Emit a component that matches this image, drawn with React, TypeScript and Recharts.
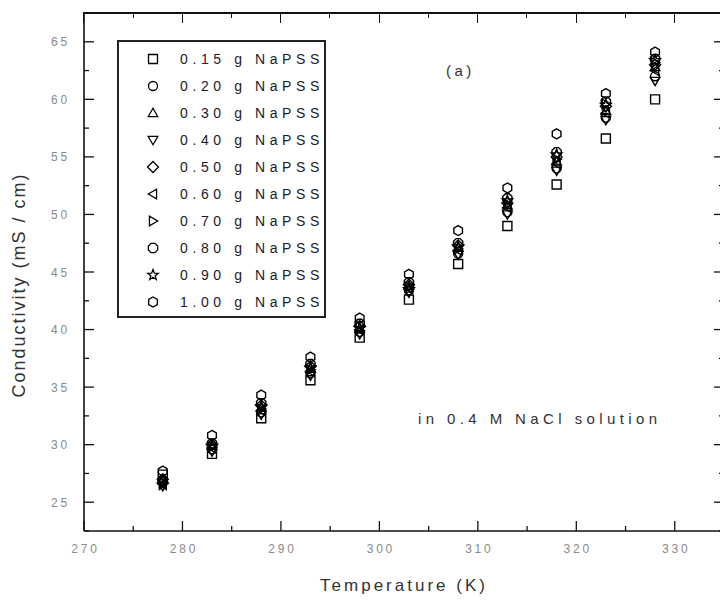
import { ReferenceLine, Scatter, ScatterChart, XAxis, YAxis } from "recharts";

const temps = [278, 283, 288, 293, 298, 303, 308, 313, 318, 323, 328];

const s015 = [27.4, 29.2, 32.3, 35.6, 39.3, 42.6, 45.7, 49.0, 52.6, 56.6, 60.0];
const s020 = [26.8, 29.6, 32.8, 36.2, 39.8, 43.4, 46.6, 50.2, 54.0, 58.4, 62.0];
const s030 = [26.9, 29.9, 33.2, 36.6, 40.1, 43.8, 47.1, 50.8, 54.6, 59.0, 62.8];
const s040 = [26.4, 29.4, 32.6, 36.0, 39.6, 43.2, 46.5, 50.0, 53.8, 58.2, 61.6];
const s050 = [27.0, 30.0, 33.4, 36.8, 40.3, 43.9, 47.3, 51.0, 55.0, 59.4, 63.0];
const s060 = [26.6, 29.7, 33.0, 36.4, 40.0, 43.6, 46.9, 50.6, 54.4, 58.8, 62.5];
const s070 = [26.7, 29.8, 33.1, 36.5, 40.2, 43.7, 47.0, 50.9, 54.8, 59.6, 63.2];
const s080 = [26.9, 30.1, 33.6, 37.0, 40.5, 44.1, 47.5, 51.4, 55.4, 59.8, 63.5];
const s090 = [26.5, 29.9, 33.3, 36.7, 40.1, 43.5, 47.2, 51.2, 55.2, 59.5, 63.4];
const s100 = [27.7, 30.8, 34.3, 37.6, 41.0, 44.8, 48.6, 52.3, 57.0, 60.5, 64.1];

const seriesNames = [
  "0.15 g NaPSS", "0.20 g NaPSS", "0.30 g NaPSS", "0.40 g NaPSS", "0.50 g NaPSS",
  "0.60 g NaPSS", "0.70 g NaPSS", "0.80 g NaPSS", "0.90 g NaPSS", "1.00 g NaPSS",
];
const seriesValues = [s015, s020, s030, s040, s050, s060, s070, s080, s090, s100];
const shapes = ["square", "circle", "triUp", "triDown", "diamond", "triLeft", "triRight", "octagon", "star", "hexagon"];

const xMajor = [270, 280, 290, 300, 310, 320, 330];
const xMinor = [275, 285, 295, 305, 315, 325, 335];
const yMajor = [25, 30, 35, 40, 45, 50, 55, 60, 65];
const yMinor = [22.5, 27.5, 32.5, 37.5, 42.5, 47.5, 52.5, 57.5, 62.5, 67.5];

const xTicks = [...xMajor, ...xMinor].sort((a, b) => a - b);
const yTicks = [...yMajor, ...yMinor].sort((a, b) => a - b);

const X_DOMAIN = [270, 335];
const Y_DOMAIN = [22.5, 67.5];

const CHART_W = 740;
const CHART_H = 600;
const TOP = 13;
const LEFT = 84;
const RIGHT_M = 15;

const FONT = '"Liberation Sans", Arial, sans-serif';
const INK = "#111";

function poly(pts: number[][]) {
  return "M" + pts.map((p) => p[0].toFixed(2) + "," + p[1].toFixed(2)).join("L") + "Z";
}

function ring(cx: number, cy: number, n: number, r: number, start: number) {
  const pts: number[][] = [];
  for (let i = 0; i < n; i++) {
    const a = start + (i * 2 * Math.PI) / n;
    pts.push([cx + r * Math.cos(a), cy + r * Math.sin(a)]);
  }
  return pts;
}

function pathFor(kind: string, cx: number, cy: number) {
  const r = 4.5;
  switch (kind) {
    case "square":
      return poly([[cx - r, cy - r], [cx + r, cy - r], [cx + r, cy + r], [cx - r, cy + r]]);
    case "circle":
      return `M${cx - r},${cy}a${r},${r} 0 1,0 ${2 * r},0a${r},${r} 0 1,0 ${-2 * r},0`;
    case "triUp":
      return poly(ring(cx, cy + 0.8, 3, 5.5, -Math.PI / 2));
    case "triDown":
      return poly(ring(cx, cy - 0.8, 3, 5.5, Math.PI / 2));
    case "triLeft":
      return poly(ring(cx + 0.8, cy, 3, 5.5, Math.PI));
    case "triRight":
      return poly(ring(cx - 0.8, cy, 3, 5.5, 0));
    case "diamond":
      return poly(ring(cx, cy, 4, 5.5, 0));
    case "octagon":
      return poly(ring(cx, cy, 8, 5, Math.PI / 8));
    case "hexagon":
      return poly(ring(cx, cy, 6, 5, -Math.PI / 2));
    case "star": {
      const pts: number[][] = [];
      for (let i = 0; i < 10; i++) {
        const a = -Math.PI / 2 + (i * Math.PI) / 5;
        const rr = i % 2 === 0 ? 5.5 : 2.3;
        pts.push([cx + rr * Math.cos(a), cy + rr * Math.sin(a)]);
      }
      return poly(pts);
    }
    default:
      return "";
  }
}

const makeShape = (kind: string) => (props: any) => {
  const { cx, cy } = props;
  if (cx == null || cy == null) return <g />;
  return <path d={pathFor(kind, cx, cy)} fill="none" stroke="#000" strokeWidth={1.4} />;
};

const tickText = { fontFamily: FONT, fontSize: 12, fill: "#8a8a8a", letterSpacing: 2.8 };

const isMajor = (v: number, majors: number[]) => majors.includes(v);

const BottomTick = (props: any) => {
  const { x, y, payload } = props;
  const major = isMajor(payload.value, xMajor);
  return (
    <g>
      <line x1={x} x2={x} y1={y} y2={y - (major ? 10 : 5)} stroke={INK} strokeWidth={1.3} />
      {major && (
        <text x={x + 1.5} y={y + 22} textAnchor="middle" style={tickText}>
          {payload.value}
        </text>
      )}
    </g>
  );
};

const LeftTick = (props: any) => {
  const { x, y, payload } = props;
  const major = isMajor(payload.value, yMajor);
  return (
    <g>
      <line x1={x} x2={x + (major ? 10 : 5)} y1={y} y2={y} stroke={INK} strokeWidth={1.3} />
      {major && (
        <text x={x - 14} y={y + 4.5} textAnchor="end" style={tickText}>
          {payload.value}
        </text>
      )}
    </g>
  );
};

const RightTick = (props: any) => {
  const { x, y, payload } = props;
  const major = isMajor(payload.value, yMajor);
  return <line x1={x} x2={x - (major ? 10 : 5)} y1={y} y2={y} stroke={INK} strokeWidth={1.3} />;
};

const titleStyle = { fontFamily: FONT, fontSize: 18, fill: "#333" };

const YTitle = (props: any) => {
  const vb = props.viewBox || { x: 0, y: 0, width: 0, height: 0 };
  const cx = vb.x + 19;
  const cy = vb.y + vb.height / 2 + 13;
  return (
    <text x={cx} y={cy} transform={`rotate(-90 ${cx} ${cy})`} textAnchor="middle" dominantBaseline="central" style={{ ...titleStyle, letterSpacing: 2 }}>
      Conductivity (mS / cm)
    </text>
  );
};

const XTitle = (props: any) => {
  const vb = props.viewBox || { x: 0, y: 0, width: 0, height: 0 };
  return (
    <text x={vb.x + vb.width / 2} y={vb.y + 60} textAnchor="middle" style={{ ...titleStyle, fontSize: 17, letterSpacing: 3 }}>
      Temperature (K)
    </text>
  );
};

// top edge of the frame as plain HTML, laid over the chart
function TopFrame() {
  const plotW = CHART_W - RIGHT_M - 1 - LEFT;
  const toX = (v: number) => LEFT + ((v - X_DOMAIN[0]) / (X_DOMAIN[1] - X_DOMAIN[0])) * plotW;
  return (
    <>
      <div
        style={{
          position: "absolute",
          left: LEFT - 1,
          top: TOP - 1,
          width: plotW + 2,
          height: 0,
          borderTop: `2px solid ${INK}`,
          zIndex: 20,
        }}
      />
      {xTicks.map((t) => (
        <div
          key={t}
          style={{
            position: "absolute",
            left: toX(t) - 0.7,
            top: TOP,
            width: 0,
            height: isMajor(t, xMajor) ? 10 : 5,
            borderLeft: `1.4px solid ${INK}`,
            zIndex: 20,
          }}
        />
      ))}
    </>
  );
}

function LegendBox() {
  return (
    <div
      style={{
        position: "absolute",
        left: 117,
        top: 40,
        width: 209,
        height: 278,
        boxSizing: "border-box",
        border: "2px solid #222",
        background: "#fff",
        paddingTop: 3,
      }}
    >
      {seriesNames.map((name, i) => (
        <div key={name} style={{ height: 27.1, display: "flex", alignItems: "center" }}>
          <svg width={14} height={14} style={{ marginLeft: 27, marginRight: 20 }}>
            <path d={pathFor(shapes[i], 7, 7)} fill="none" stroke="#000" strokeWidth={1.3} />
          </svg>
          <span style={{ fontFamily: FONT, fontSize: 14, color: "#1a1a2a", letterSpacing: 4.6 }}>{name}</span>
        </div>
      ))}
    </div>
  );
}

const note = { position: "absolute" as const, fontFamily: FONT, fontSize: 15, color: "#333", whiteSpace: "nowrap" as const };

export default function App() {
  return (
    <div style={{ position: "absolute", left: 0, top: 0, width: 720, height: 600, overflow: "hidden", background: "#fff" }}>
      <ScatterChart width={CHART_W} height={CHART_H} margin={{ top: TOP, right: RIGHT_M, bottom: 0, left: 0 }}>
        <XAxis
          xAxisId="b"
          dataKey="x"
          type="number"
          domain={X_DOMAIN}
          allowDataOverflow
          ticks={xTicks}
          interval={0}
          height={69}
          tickSize={0}
          tickMargin={0}
          tickLine={false}
          tick={<BottomTick />}
          axisLine={{ stroke: INK, strokeWidth: 1.6 }}
          label={{ content: <XTitle /> }}
        />
        <YAxis
          yAxisId="l"
          dataKey="y"
          type="number"
          domain={Y_DOMAIN}
          allowDataOverflow
          ticks={yTicks}
          interval={0}
          width={84}
          tickSize={0}
          tickMargin={0}
          tickLine={false}
          tick={<LeftTick />}
          axisLine={{ stroke: INK, strokeWidth: 1.6 }}
          label={{ content: <YTitle /> }}
        />
        <YAxis
          yAxisId="r"
          orientation="right"
          type="number"
          domain={Y_DOMAIN}
          allowDataOverflow
          ticks={yTicks}
          interval={0}
          width={1}
          tickSize={0}
          tickMargin={0}
          tickLine={false}
          tick={<RightTick />}
          axisLine={{ stroke: INK, strokeWidth: 1.6 }}
        />
        <ReferenceLine xAxisId="b" yAxisId="l" y={Y_DOMAIN[1]} stroke={INK} strokeWidth={1.6} ifOverflow="visible" />
        {seriesValues.map((vals, i) => (
          <Scatter
            key={seriesNames[i]}
            name={seriesNames[i]}
            xAxisId="b"
            yAxisId="l"
            data={temps.map((t, j) => ({ x: t, y: vals[j] }))}
            fill="#000"
            shape={makeShape(shapes[i])}
            isAnimationActive={false}
          />
        ))}
      </ScatterChart>
      <TopFrame />
      <LegendBox />
      <div style={{ ...note, left: 446, top: 62, letterSpacing: 3.5 }}>(a)</div>
      <div style={{ ...note, left: 418, top: 410, letterSpacing: 4.4 }}>in 0.4 M NaCl solution</div>
    </div>
  );
}
